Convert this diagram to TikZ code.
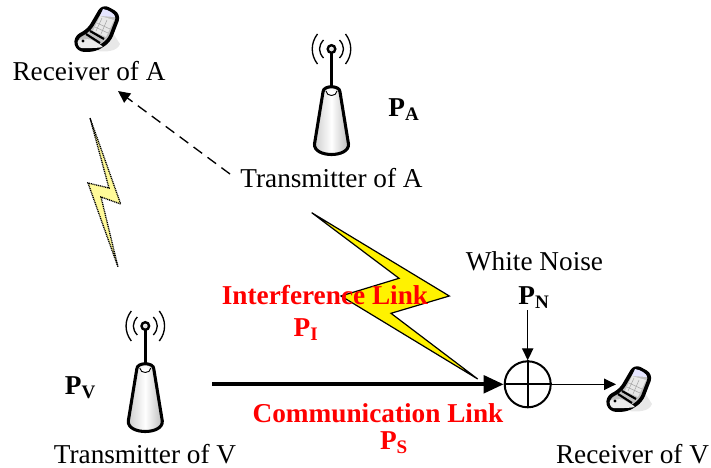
\documentclass[tikz,border=0pt]{standalone}
\usepackage{fontspec}
\setmainfont{Liberation Serif}
\usetikzlibrary{arrows.meta,positioning,calc}
\tikzstyle{lbl}=[anchor=base,inner sep=0pt,font=\fontsize{20.45}{24}\selectfont]
\tikzstyle{pow}=[lbl,font=\fontsize{20.45}{24}\selectfont\bfseries]
\tikzstyle{lnk}=[pow,text=red]
\tikzstyle{ln}=[-{Triangle[length=9pt,width=8.5pt]},line width=1pt]
\tikzset{
  tower/.pic={
    \draw[line width=1pt] (-8,-52) .. controls (-13.3,-46) and (-13.3,-40) .. (-8,-34);
    \draw[line width=1pt] (8,-52) .. controls (13.3,-46) and (13.3,-40) .. (8,-34);
    \draw[line width=1pt] (-14,-58) .. controls (-21,-49) and (-21,-37) .. (-14,-28);
    \draw[line width=1pt] (14,-58) .. controls (21,-49) and (21,-37) .. (14,-28);
    \draw[line width=2.2pt] (0,-39) -- (0,-3);
    \draw[line width=1.8pt,fill=white,inner color=gray!30] (0,-43) circle (3.8);
    \draw[line width=2.3pt,left color=gray!40,right color=gray!55,middle color=white]
      (-8.5,0) .. controls (-8.5,-7) and (8.5,-7) .. (8.5,0)
      -- (17,52) .. controls (18,66) and (-18,66) .. (-17,52) -- cycle;
    \draw[line width=.7pt,fill=white] (-5.5,-1) .. controls (-5,5) and (5,5) .. (5.5,-1);
  },
  phone/.pic={
    \fill[gray!18] (14,2) -- (23,16) .. controls (20,24) and (8,24) .. (0,23) -- cycle;
    \draw[line width=2.8pt,line join=round,fill=gray!50,rounded corners=4.5pt]
      (6,-22) -- (22,-13) -- (12,13) -- (-2,22) -- (-19,22) -- (-22,10) -- (-8,2) -- cycle;
    \fill[gray!15,rounded corners=2pt] (-7,11) -- (7,19) -- (-2,20) -- (-18,20) -- (-20,12) -- cycle;
    \fill[blue!10] (6,-19) .. controls (12,-18) and (18,-14) .. (18,-11) -- (3,-12) -- cycle;
    \fill[gray!18] (3,-12) -- (17,-8) -- (9,9) -- (-4,3) -- cycle;
    \draw[line width=.4pt,gray!70] (0,-5) -- (13,1) (-2,-1) -- (11,5) (5,-10) -- (-1,3) (10,-8) -- (4,6);
    \draw[line width=1.6pt] (-7,3) -- (7,11);
    \draw[line width=1.6pt] (-11,6) -- (3,15);
    \fill (-14,13) circle (1.6);
  }
}
\begin{document}
\begin{tikzpicture}[x=.75pt,y=-.75pt]
  \useasboundingbox (0,0) rectangle (711,468);
  % links
  \draw[line width=.9pt,fill=yellow,line join=miter] (311.7,212.7) -- (449.3,296) -- (391,313.3) -- (477.7,379) -- (341,296) -- (399,278.3) -- cycle;
  \draw[line width=1pt,dash pattern=on .8pt off .6pt,fill=yellow!40] (90,118) -- (120.7,204) -- (101,197) -- (118,267) -- (88,183) -- (109,188) -- cycle;
  % equipment
  \draw (331.5,92) pic {tower};
  \draw (145.3,369) pic {tower};
  \draw (97,28) pic {phone};
  \draw (629,388) pic {phone};
  \draw (527.7,384.3) node[circle,draw,line width=1.5pt,minimum size=34.5pt,inner sep=0pt] (sum) {};
  \draw[line width=1.5pt] (sum.north) -- (sum.south);
  \draw[line width=1.5pt] (sum.west) -- (sum.east);
  % texts
  \draw (89,80) node[lbl] (nRxA) {Receiver of A};
  \draw (331.5,187.5) node[lbl] (nTxA) {Transmitter of A};
  \draw (145,463) node[lbl] (nTxV) {Transmitter of V};
  \draw (632.5,463) node[lbl] (nRxV) {Receiver of V};
  \draw (534.5,270.5) node[lbl] (nNoise) {White Noise};
  \draw (534,304) node[pow] (nPN) {P\textsubscript{N}};
  \draw (404,116.7) node[pow] (nPA) {P\textsubscript{A}};
  \draw (80.5,394) node[pow] (nPV) {P\textsubscript{V}};
  \draw (325,304) node[lnk] (nIL) {Interference Link};
  \draw (306,336) node[lnk] (nPI) {P\textsubscript{I}};
  \draw (378,422.5) node[lnk] (nCL) {Communication Link};
  \draw (394,449) node[lnk] (nPS) {P\textsubscript{S}};
  % arrows
  \coordinate (vOut) at (212,384.3);
  \coordinate (aOut) at (230,174);
  \coordinate (aIn) at (118,91);
  \coordinate (nTop) at (527.7,310);
  \coordinate (rxIn) at (616,384.3);
  \draw[-{Triangle[length=15pt,width=13pt]},line width=3pt] (vOut) -- (sum.west);
  \draw[ln,dash pattern=on 8pt off 5pt] (aOut) -- (aIn);
  \draw[ln] (nTop) -- (sum.north);
  \draw[ln] (sum.east) -- (rxIn);
\end{tikzpicture}
\end{document}
